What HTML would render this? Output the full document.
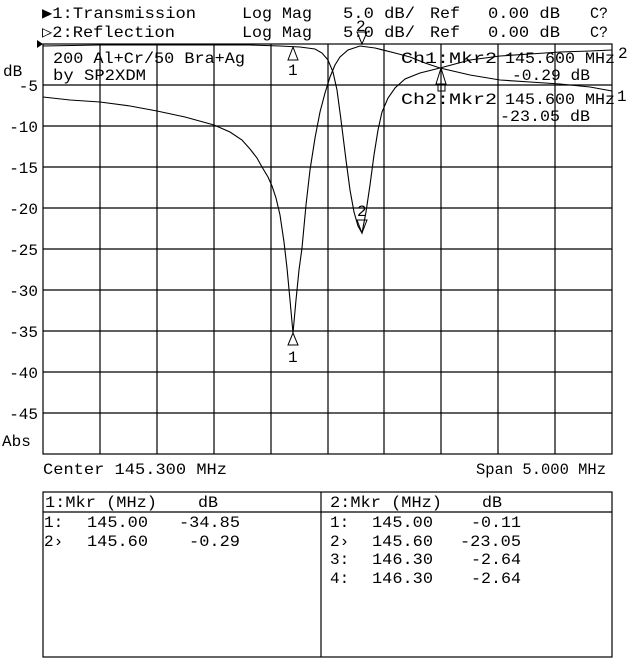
<!DOCTYPE html>
<html><head><meta charset="utf-8"><style>
html,body{margin:0;padding:0;background:#fff;}
svg{display:block;}
text{font-family:"Liberation Mono","DejaVu Sans Mono",monospace;font-size:16px;fill:#000;}
</style></head><body>
<svg width="640" height="659" viewBox="0 0 640 659" xmlns="http://www.w3.org/2000/svg">
<rect width="640" height="659" fill="#fff"/>
<text x="42" y="18" textLength="154" lengthAdjust="spacingAndGlyphs">▶1:Transmission</text>
<text x="42" y="37" textLength="133" lengthAdjust="spacingAndGlyphs">▷2:Reflection</text>
<g>
<text x="242" y="18" textLength="70" lengthAdjust="spacingAndGlyphs">Log Mag</text>
<text x="343" y="18" textLength="72" lengthAdjust="spacingAndGlyphs">5.0 dB/</text>
<text x="430" y="18" textLength="30" lengthAdjust="spacingAndGlyphs">Ref</text>
<text x="488" y="18" textLength="72" lengthAdjust="spacingAndGlyphs">0.00 dB</text>
<text x="590" y="18" textLength="18" lengthAdjust="spacingAndGlyphs">C?</text>
<text x="242" y="37" textLength="70" lengthAdjust="spacingAndGlyphs">Log Mag</text>
<text x="343" y="37" textLength="72" lengthAdjust="spacingAndGlyphs">5.0 dB/</text>
<text x="430" y="37" textLength="30" lengthAdjust="spacingAndGlyphs">Ref</text>
<text x="488" y="37" textLength="72" lengthAdjust="spacingAndGlyphs">0.00 dB</text>
<text x="590" y="37" textLength="18" lengthAdjust="spacingAndGlyphs">C?</text>
</g>
<g stroke="#000" stroke-width="1.2" fill="none">
<rect x="43" y="44" width="569" height="410"/>
<path d="M100 44V454M157 44V454M214 44V454M271 44V454M328 44V454M384 44V454M441 44V454M498 44V454M555 44V454"/>
<path d="M43 85H612M43 126H612M43 167H612M43 208H612M43 249H612M43 290H612M43 331H612M43 372H612M43 413H612"/>
</g>
<polygon points="37,40 43,44 37,48" fill="#000"/>
<g text-anchor="end">
<text x="3" y="76" text-anchor="start">dB</text>
<text x="38" y="91">-5</text>
<text x="38" y="132">-10</text>
<text x="38" y="173">-15</text>
<text x="38" y="214">-20</text>
<text x="38" y="255">-25</text>
<text x="38" y="296">-30</text>
<text x="38" y="337">-35</text>
<text x="38" y="378">-40</text>
<text x="38" y="419">-45</text>
</g>
<text x="2" y="446">Abs</text>
<text x="53" y="63" textLength="192" lengthAdjust="spacingAndGlyphs">200 Al+Cr/50 Bra+Ag</text>
<text x="53" y="80" textLength="93" lengthAdjust="spacingAndGlyphs">by SP2XDM</text>
<text x="401" y="63" textLength="96" lengthAdjust="spacingAndGlyphs">Ch1:Mkr2</text>
<text x="505" y="63" textLength="110" lengthAdjust="spacingAndGlyphs">145.600 MHz</text>
<text x="618" y="58">2</text>
<text x="512" y="80" textLength="78" lengthAdjust="spacingAndGlyphs">-0.29 dB</text>
<text x="401" y="104" textLength="96" lengthAdjust="spacingAndGlyphs">Ch2:Mkr2</text>
<text x="505" y="104" textLength="110" lengthAdjust="spacingAndGlyphs">145.600 MHz</text>
<text x="617" y="101">1</text>
<text x="500" y="121" textLength="90" lengthAdjust="spacingAndGlyphs">-23.05 dB</text>
<g stroke="#000" stroke-width="1.1" fill="none">
<polyline points="43,97 70,100 100,102 130,106 157,111 185,117 214,125 230,132 242,140 250,149 257,158 262,167 268,177 272,186 276,198 280,215 284,242 287,268 290,300 293,333 296,300 299,270 302,248 306,205 310,170 315,138 320,112 325,93 330,77 335,65 340,57 348,50 360,46 375,48 395,53 410,57 425,63 440,68 470,75 500,80 530,82 560,84 590,87 612,91"/>
<polyline points="43,46 100,45 157,45 214,45 250,45 280,46 300,47 315,49 322,53 328,60 333,72 337,90 341,120 346,160 350,190 354,212 358,226 362,233 366,212 370,185 374,155 378,130 382,112 388,98 395,88 405,79 420,73 440,68 470,60 500,56 530,54 560,52 590,51 612,50"/>
</g>
<g stroke="#000" stroke-width="1" fill="none">
<polygon points="293,47 288,60 298,60"/>
<polygon points="293,333 288,345 298,345"/>
<polygon points="362,44 357,32 367,32"/>
<polygon points="362,233 357,220 367,220"/>
<polygon points="441,68 436,84 446,84"/>
<rect x="438" y="84" width="7" height="7"/>
</g>
<text x="288" y="75" font-size="14">1</text>
<text x="288" y="362" font-size="14">1</text>
<text x="356" y="31" font-size="14">2</text>
<text x="357" y="216" font-size="13">2</text>
<text x="43" y="474" textLength="184" lengthAdjust="spacingAndGlyphs">Center 145.300 MHz</text>
<text x="476" y="474" textLength="130" lengthAdjust="spacingAndGlyphs">Span 5.000 MHz</text>
<g stroke="#000" stroke-width="1.2" fill="none">
<rect x="43" y="492" width="569" height="165"/>
<path d="M43 512H612M321 492V657"/>
</g>
<text x="45" y="507" textLength="112" lengthAdjust="spacingAndGlyphs">1:Mkr (MHz)</text>
<text x="198" y="507" textLength="20" lengthAdjust="spacingAndGlyphs">dB</text>
<text x="330" y="507" textLength="112" lengthAdjust="spacingAndGlyphs">2:Mkr (MHz)</text>
<text x="482" y="507" textLength="20" lengthAdjust="spacingAndGlyphs">dB</text>
<g>
<text x="44" y="527">1:</text><text x="87" y="527" textLength="61" lengthAdjust="spacingAndGlyphs">145.00</text><text x="179" y="527" textLength="61" lengthAdjust="spacingAndGlyphs">-34.85</text>
<text x="44" y="546">2›</text><text x="87" y="546" textLength="61" lengthAdjust="spacingAndGlyphs">145.60</text><text x="189" y="546" textLength="51" lengthAdjust="spacingAndGlyphs">-0.29</text>
<text x="330" y="527">1:</text><text x="372" y="527" textLength="61" lengthAdjust="spacingAndGlyphs">145.00</text><text x="471" y="527" textLength="50" lengthAdjust="spacingAndGlyphs">-0.11</text>
<text x="330" y="546">2›</text><text x="372" y="546" textLength="61" lengthAdjust="spacingAndGlyphs">145.60</text><text x="460" y="546" textLength="61" lengthAdjust="spacingAndGlyphs">-23.05</text>
<text x="330" y="564">3:</text><text x="372" y="564" textLength="61" lengthAdjust="spacingAndGlyphs">146.30</text><text x="471" y="564" textLength="50" lengthAdjust="spacingAndGlyphs">-2.64</text>
<text x="330" y="583">4:</text><text x="372" y="583" textLength="61" lengthAdjust="spacingAndGlyphs">146.30</text><text x="471" y="583" textLength="50" lengthAdjust="spacingAndGlyphs">-2.64</text>
</g>
</svg>
</body></html>
